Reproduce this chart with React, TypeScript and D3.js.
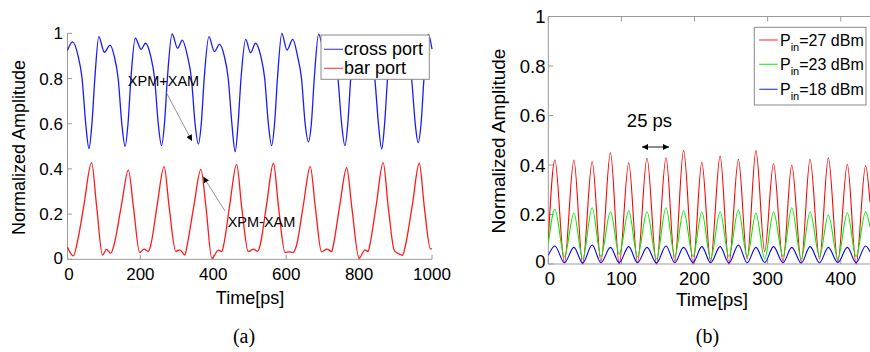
import React from 'react';
import * as d3 from 'd3';

// ---------- (a) data ----------
const crossPort: [number, number][] = [
  [0, 0.925], [14, 0.962], [29, 0.9], [40, 0.8], [50, 0.6], [59, 0.49],
  [67, 0.6], [75, 0.8], [86, 0.985], [101, 0.916], [117, 0.948], [128, 0.9], [139, 0.8], [149, 0.6], [158, 0.5],
  [166, 0.6], [174, 0.8], [186, 0.978], [202, 0.929], [214, 0.956], [228, 0.9], [239, 0.8], [249, 0.6], [258, 0.503],
  [266, 0.6], [274, 0.8], [287, 0.997], [302, 0.934], [315, 0.97], [329, 0.9], [340, 0.8], [350, 0.6], [359, 0.51],
  [367, 0.6], [375, 0.8], [388, 0.985], [403, 0.919], [417, 0.951], [430, 0.9], [441, 0.8], [451, 0.6], [460, 0.476],
  [468, 0.6], [476, 0.8], [489, 0.973], [502, 0.914], [516, 0.956], [530, 0.9], [541, 0.8], [551, 0.6], [560, 0.503],
  [568, 0.6], [576, 0.8], [588, 1.0], [602, 0.926], [618, 0.973], [631, 0.9], [642, 0.8], [652, 0.6], [661, 0.52],
  [669, 0.6], [677, 0.8], [689, 0.996], [703, 0.93], [717, 0.962], [731, 0.9], [742, 0.8], [752, 0.6], [761, 0.503],
  [769, 0.6], [777, 0.8], [790, 0.985], [804, 0.92], [818, 0.952], [832, 0.9], [843, 0.8], [853, 0.6], [862, 0.488],
  [870, 0.6], [878, 0.8], [890, 0.982], [905, 0.925], [920, 0.956], [933, 0.9], [944, 0.8], [954, 0.6], [962, 0.516],
  [970, 0.6], [978, 0.8], [990, 0.995], [1000, 0.93],
];

const barPort: [number, number][] = [
  [0, 0.053], [16, 0.015], [30, 0.1], [45, 0.24], [66, 0.428], [80, 0.233], [96, 0.019], [107, 0.044], [119, 0.027],
  [127, 0.06], [148, 0.24], [167, 0.395], [181, 0.23], [198, 0.03], [210, 0.045], [222, 0.035],
  [228, 0.06], [246, 0.24], [265, 0.41], [279, 0.23], [297, 0.035], [308, 0.042], [322, 0.019],
  [328, 0.06], [347, 0.24], [366, 0.398], [380, 0.23], [396, 0.004], [414, 0.041], [423, 0.034],
  [428, 0.06], [445, 0.24], [464, 0.42], [478, 0.23], [496, 0.034], [510, 0.045], [522, 0.035],
  [528, 0.06], [546, 0.24], [565, 0.425], [579, 0.23], [597, 0.03], [608, 0.033], [619, 0.03],
  [628, 0.06], [647, 0.24], [666, 0.41], [680, 0.23], [697, 0.033], [712, 0.045], [725, 0.034],
  [729, 0.06], [747, 0.24], [766, 0.405], [780, 0.23], [800, 0.004], [816, 0.042], [825, 0.035],
  [829, 0.06], [847, 0.24], [866, 0.428], [880, 0.23], [897, 0.037], [911, 0.023], [919, 0.018],
  [927, 0.06], [946, 0.24], [965, 0.425], [979, 0.23], [996, 0.045], [1000, 0.048],
];

const xTicksA = [0, 200, 400, 600, 800, 1000];
const yTicks = [0, 0.2, 0.4, 0.6, 0.8, 1];
const legendA = ['cross port', 'bar port'];

// ---------- (b) data ----------
const peakTimes = [9, 35, 60, 85, 110, 135, 161, 185, 210, 235, 260, 284, 308, 333, 358, 383, 409, 434];
const troughTimes = [22, 47, 72, 97, 122, 148, 173, 198, 222, 247, 272, 296, 321, 346, 371, 396, 421];

const p27Peaks = [0.42, 0.42, 0.413, 0.45, 0.409, 0.427, 0.429, 0.459, 0.411, 0.436, 0.423, 0.458, 0.406, 0.4, 0.423, 0.429, 0.403, 0.397];
const p27Troughs = [0.005, 0, 0.01, 0, 0.005, 0, 0.01, 0, 0.01, 0, 0.02, 0.05, 0.01, 0.01, 0.02, 0.01, 0];
const p27Edges = [0.1, 0.25];

const p23Peaks = [0.221, 0.205, 0.227, 0.211, 0.215, 0.211, 0.227, 0.215, 0.211, 0.211, 0.218, 0.205, 0.211, 0.227, 0.211, 0.198, 0.207, 0.211];
const p23Troughs = [0.03, 0.02, 0.03, 0.04, 0.03, 0.02, 0.03, 0.03, 0.02, 0.03, 0.03, 0.02, 0.03, 0.02, 0.03, 0.02, 0.03];
const p23Edges = [0.08, 0.15];

const p18Peaks = [0.073, 0.067, 0.077, 0.067, 0.07, 0.067, 0.073, 0.067, 0.07, 0.07, 0.077, 0.067, 0.07, 0.067, 0.07, 0.067, 0.067, 0.073];
const p18Troughs = [0.005, 0.004, 0.005, 0.006, 0.005, 0.004, 0.005, 0.006, 0.005, 0.004, 0.005, 0.006, 0.005, 0.004, 0.005, 0.006, 0.005];
const p18Edges = [0.035, 0.05];

const xTicksB = [0, 100, 200, 300, 400];
const legendB = ['27', '23', '18'];

function buildSeries(peaks: number[], troughs: number[], edges: number[]): [number, number][] {
  const pts: [number, number][] = [[0, edges[0]]];
  peakTimes.forEach((t, i) => {
    pts.push([t, peaks[i]]);
    if (i < troughTimes.length) pts.push([troughTimes[i], troughs[i]]);
  });
  pts.push([440, edges[1]]);
  return pts;
}

const SANS = "'Liberation Sans', Arial, sans-serif";
const SERIF = "'Liberation Serif', 'Times New Roman', serif";
const AXIS = '#9a9a9a';

export default function App() {
  const fmt = d3.format('~g');

  const xa = d3.scaleLinear().domain([0, 1000]).range([67.5, 432]);
  const ya = d3.scaleLinear().domain([0, 1]).range([259.3, 33.3]);
  const xb = d3.scaleLinear().domain([0, 440]).range([548.3, 870]);
  const yb = d3.scaleLinear().domain([0, 1]).range([264, 16.5]);

  const lineA = d3.line<[number, number]>().x(d => xa(d[0])).y(d => ya(d[1])).curve(d3.curveMonotoneX);
  const lineB = d3.line<[number, number]>().x(d => xb(d[0])).y(d => yb(d[1])).curve(d3.curveMonotoneX);

  const seriesB = [
    { pts: buildSeries(p27Peaks, p27Troughs, p27Edges), color: '#ff0000' },
    { pts: buildSeries(p23Peaks, p23Troughs, p23Edges), color: '#00ee00' },
    { pts: buildSeries(p18Peaks, p18Troughs, p18Edges), color: '#0000ff' },
  ];
  const legendColorsB = ['#ff4040', '#30ee30', '#4040ff'];

  const [xa0, xa1] = xa.range();
  const [yb0, yb1] = yb.range();
  const [xb0, xb1] = xb.range();

  return (
    <svg width={870} height={352} style={{ position: 'absolute', left: 0, top: 0, background: '#fff' }}
      xmlns="http://www.w3.org/2000/svg">
      <defs>
        <marker id="ah" viewBox="0 0 10 10" refX="10" refY="5" markerWidth="7" markerHeight="6" orient="auto-start-reverse" markerUnits="userSpaceOnUse">
          <path d="M0,0 L10,5 L0,10 z" fill="#000" />
        </marker>
        <clipPath id="clipB">
          <rect x={xb0} y={yb1} width={xb1 - xb0} height={yb0 - yb1 + 2} />
        </clipPath>
      </defs>
      <rect x={0} y={0} width={870} height={352} fill="#fff" />

      {/* ---------------- (a) ---------------- */}
      <g>
        <line x1={xa0} x2={xa0} y1={ya(0)} y2={ya(1)} stroke={AXIS} strokeWidth={1} />
        <line x1={xa0} x2={xa1} y1={ya(0)} y2={ya(0)} stroke={AXIS} strokeWidth={1} />
        {yTicks.map(v => (
          <g key={'ya' + v}>
            <line x1={xa0} x2={xa0 + 4.5} y1={ya(v)} y2={ya(v)} stroke={AXIS} />
            <text x={63} y={ya(v)} dy={v === 0 ? '0.3em' : '0.36em'} textAnchor="end" fontFamily={SANS} fontSize={17}>{fmt(v)}</text>
          </g>
        ))}
        {xTicksA.map(t => (
          <g key={'xa' + t}>
            <line x1={xa(t)} x2={xa(t)} y1={ya(0)} y2={ya(0) - 4.5} stroke={AXIS} />
            <text x={xa(t) + (t === 0 ? 1.5 : 0)} y={280} textAnchor="middle" fontFamily={SANS} fontSize={17}>{t}</text>
          </g>
        ))}
        <path d={lineA(crossPort) || ''} fill="none" stroke="#1a1aff" strokeWidth={1.3} />
        <path d={lineA(barPort) || ''} fill="none" stroke="#ff1a1a" strokeWidth={1.3} />

        {/* annotations */}
        <text x={163.5} y={86} textAnchor="middle" fontFamily={SANS} fontSize={14.5}>XPM+XAM</text>
        <line x1={166} y1={92} x2={192} y2={141} stroke="#777" strokeWidth={0.8} markerEnd="url(#ah)" />
        <text x={261.5} y={227} textAnchor="middle" fontFamily={SANS} fontSize={14.5}>XPM-XAM</text>
        <line x1={225} y1={211} x2={203.3} y2={176.7} stroke="#777" strokeWidth={0.8} markerEnd="url(#ah)" />

        {/* legend */}
        <rect x={321} y={35} width={108.3} height={44.3} fill="#fff" stroke="#8a8a8a" strokeWidth={1} />
        {legendA.map((name, i) => (
          <g key={name}>
            <line x1={324} x2={343} y1={49.3 + i * 19} y2={49.3 + i * 19} stroke={i === 0 ? '#4a4aff' : '#ff4a4a'} strokeWidth={1.2} />
            <text x={344} y={54.8 + i * 19} fontFamily={SANS} fontSize={18}>{name}</text>
          </g>
        ))}

        <text transform={`translate(25,147.5) rotate(-90)`} textAnchor="middle" fontFamily={SANS} fontSize={18}>Normalized Amplitude</text>
        <text x={250} y={304} textAnchor="middle" fontFamily={SANS} fontSize={18}>Time[ps]</text>
        <text x={244} y={343} textAnchor="middle" fontFamily={SERIF} fontSize={20}>(a)</text>
      </g>

      {/* ---------------- (b) ---------------- */}
      <g>
        <line x1={xb0} x2={xb0} y1={yb0} y2={yb1} stroke={AXIS} />
        <line x1={xb0} x2={xb1} y1={yb0} y2={yb0} stroke={AXIS} />
        <line x1={xb0} x2={xb1} y1={yb1} y2={yb1} stroke={AXIS} />
        {yTicks.map(v => (
          <g key={'yb' + v}>
            <line x1={xb0} x2={xb0 + 5} y1={yb(v)} y2={yb(v)} stroke={AXIS} />
            <text x={545.5} y={yb(v)} dy={v === 0 ? '0.2em' : '0.36em'} textAnchor="end" fontFamily={SANS} fontSize={18.5}>{fmt(v)}</text>
          </g>
        ))}
        {xTicksB.map(t => (
          <g key={'xb' + t}>
            <line x1={xb(t)} x2={xb(t)} y1={yb0} y2={yb0 - 5} stroke={AXIS} />
            <line x1={xb(t)} x2={xb(t)} y1={yb1} y2={yb1 + 5} stroke={AXIS} />
            <text x={xb(t) + (t === 0 ? 1.5 : 0)} y={285} textAnchor="middle" fontFamily={SANS} fontSize={18.5}>{t}</text>
          </g>
        ))}
        <g clipPath="url(#clipB)">
          {seriesB.map((s, i) => (
            <path key={i} d={lineB(s.pts) || ''} fill="none" stroke={s.color} strokeWidth={1.1} />
          ))}
        </g>

        {/* 25 ps annotation */}
        <text x={649.5} y={127} textAnchor="middle" fontFamily={SANS} fontSize={18.5}>25 ps</text>
        <line x1={642} x2={669} y1={147} y2={147} stroke="#000" strokeWidth={0.9} markerStart="url(#ah)" markerEnd="url(#ah)" />

        {/* legend */}
        <rect x={754.3} y={27.3} width={111.7} height={77.7} fill="#fff" stroke="#8a8a8a" strokeWidth={1} />
        {legendB.map((p, i) => {
          const y = [40, 64.3, 89.3][i];
          return (
            <g key={p}>
              <line x1={759.3} x2={777.7} y1={y} y2={y} stroke={legendColorsB[i]} strokeWidth={1.2} />
              <text x={780} y={y + 5.5} fontFamily={SANS} fontSize={16}>
                <tspan>P</tspan>
                <tspan fontSize={11} dy={5}>in</tspan>
                <tspan dy={-5}>{`=${p} dBm`}</tspan>
              </text>
            </g>
          );
        })}

        <text transform={`translate(505,141) rotate(-90)`} textAnchor="middle" fontFamily={SANS} fontSize={19}>Normalized Amplitude</text>
        <text x={712} y={306} textAnchor="middle" fontFamily={SANS} fontSize={19}>Time[ps]</text>
        <text x={707.5} y={343} textAnchor="middle" fontFamily={SERIF} fontSize={20}>(b)</text>
      </g>
    </svg>
  );
}
